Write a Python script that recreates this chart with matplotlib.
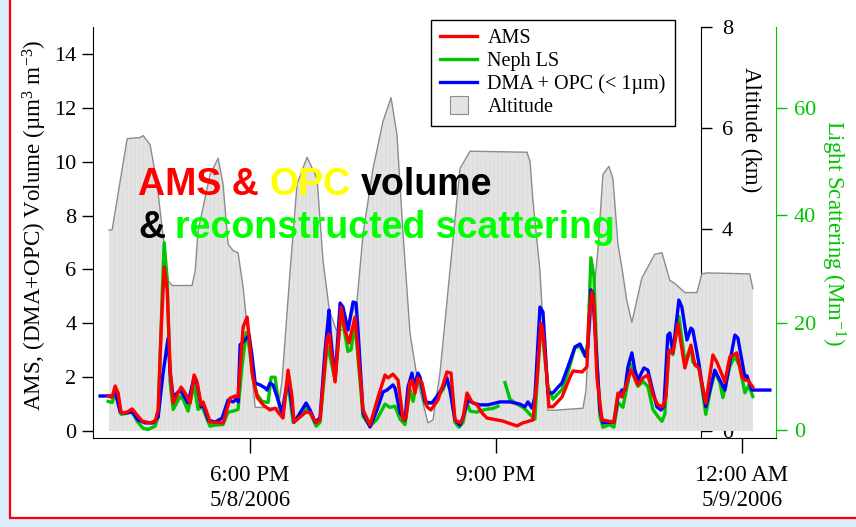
import matplotlib
matplotlib.use('Agg')
import matplotlib.pyplot as plt
import numpy as np
from matplotlib.lines import Line2D
from matplotlib.patches import Rectangle

plt.rcParams['font.family'] = 'Liberation Serif'
plt.rcParams['mathtext.fontset'] = 'custom'
plt.rcParams['mathtext.rm'] = 'Liberation Serif'
plt.rcParams['mathtext.it'] = 'Liberation Serif:italic'
plt.rcParams['hatch.linewidth'] = 0.5

# time in minutes after 4:00 PM, 5/8/2006
t_dma = [10.2, 19.0, 19.8, 21.2, 24.9, 28.5, 33.7, 38.0, 43.2, 49.0, 52.7, 56.3, 60.0, 61.5, 63.7,
         68.8, 71.0, 74.6, 79.0, 81.2, 84.1, 85.6, 89.3, 94.4, 99.5, 103.9, 107.6, 110.5, 111.2,
         112.7, 116.3, 119.3, 121.5, 123.7, 127.3, 131.0, 132.4, 134.6, 136.8, 139.8, 143.4,
         147.8, 152.2, 156.6, 161.0, 163.9, 167.6, 171.2, 174.9, 177.8, 178.5, 182.2, 185.9,
         188.0, 191.7, 195.4, 197.6, 199.0, 202.7, 207.8, 212.9, 217.3, 220.2, 224.6, 226.1,
         229.8, 233.4, 235.6, 238.5, 240.0, 242.9, 244.4, 248.1, 253.2, 257.5, 261.2, 264.1,
         266.3, 270.0, 273.7, 275.9, 279.5, 283.2, 288.3, 294.1, 302.9, 310.2, 317.5, 321.2,
         323.4, 326.3, 328.5, 332.2, 334.4, 338.0, 341.7, 345.4, 348.3, 352.7, 357.8, 361.5,
         363.7, 365.9, 367.3, 369.5, 370.9, 373.9, 376.1, 378.3, 383.4, 386.3, 389.3, 392.2,
         394.4, 396.6, 399.5, 401.7, 403.9, 408.3, 411.2, 414.1, 417.8, 420.7, 422.9, 425.8,
         427.3, 429.5, 433.9, 436.1, 439.8, 442.7, 444.1, 448.5, 451.5, 453.6, 456.6, 460.2,
         463.9, 467.6, 471.2, 474.9, 477.1, 482.2, 483.7, 487.3, 500.5]
v_dma = [1.3, 1.3, 1.33, 1.5, 0.7, 0.67, 0.7, 0.41, 0.3, 0.3, 0.52, 2.15, 3.45, 2.15, 1.26,
         1.52, 1.34, 1.04, 2.0, 1.75, 0.9, 1.0, 0.41, 0.33, 0.48, 1.15, 1.08, 1.22, 1.08,
         3.2, 3.38, 3.56, 2.75, 1.78, 1.71, 1.6, 1.52, 1.78, 1.71, 1.26, 0.67,
         2.0, 0.33, 0.67, 1.04, 0.78, 0.33, 0.48, 3.0, 4.49, 3.75, 1.89, 4.75,
         4.6, 3.75, 4.79, 4.75, 3.75, 0.67, 0.15, 0.78, 1.45, 1.52, 1.71, 1.6,
         0.67, 0.41, 1.63, 2.15, 1.63, 2.15, 2.0, 1.08, 1.04, 1.34, 1.63, 1.97,
         1.52, 0.41, 0.22, 0.52, 1.15, 1.04, 0.97, 0.97, 1.08, 1.08, 1.0, 0.9,
         1.08, 0.85, 1.26, 4.6, 4.42, 1.41, 1.41, 1.63, 1.78, 2.38, 3.12, 3.23,
         3.0, 2.75, 3.12, 5.24, 5.12, 2.64, 0.78, 0.3, 0.33, 0.33, 1.26, 1.52,
         1.52, 2.38, 2.9, 2.26, 1.89, 2.34, 2.26, 1.63, 0.9, 0.78, 0.9, 3.56,
         3.64, 2.9, 4.86, 4.6, 3.38, 3.82, 3.75, 2.53, 1.52, 0.9, 1.52, 2.26,
         1.89, 1.52, 2.56, 3.56, 3.45, 2.0, 2.05, 1.52, 1.52]

t_ams = [16.1, 19.0, 21.2, 23.4, 25.6, 30.0, 33.7, 37.3, 41.0, 46.8, 50.5, 52.7, 54.9, 57.1,
         59.3, 61.5, 63.7, 67.3, 69.5, 72.4, 76.1, 79.0, 81.2, 84.1, 85.6, 88.5, 90.7, 100.2,
         105.4, 109.0, 111.2, 114.9, 117.8, 119.3, 121.5, 125.1, 129.5, 134.6, 138.3, 140.5,
         144.1, 147.8, 150.7, 152.2, 156.6, 161.0, 163.9, 168.3, 171.2, 176.3, 177.8, 178.5,
         182.2, 186.6, 189.5, 192.4, 196.8, 202.7, 207.8, 213.7, 218.8, 221.0, 224.6, 228.3,
         232.0, 234.1, 237.1, 238.5, 240.7, 242.9, 245.9, 249.5, 252.4, 257.5, 261.2, 264.1,
         267.1, 270.0, 273.7, 275.9, 278.8, 282.4, 286.1, 289.8, 293.4, 300.7, 305.1, 308.8,
         315.4, 319.7, 327.1, 330.0, 332.9, 334.4, 337.3, 338.8, 341.7, 348.3, 354.2, 356.4,
         363.0, 366.6, 368.0, 370.2, 371.7, 373.9, 377.6, 386.3, 389.3, 392.2, 395.8, 398.8,
         401.7, 403.9, 407.6, 411.2, 414.9, 418.5, 422.2, 424.4, 426.6, 429.5, 433.2, 438.3,
         442.7, 445.6, 448.5, 453.6, 458.8, 461.7, 467.6, 471.2, 476.3, 480.0, 482.2, 484.4,
         488.0]
v_ams = [1.3, 1.25, 1.67, 1.41, 0.67, 0.7, 0.82, 0.59, 0.37, 0.3, 0.37, 0.78, 3.75, 6.09,
         5.24, 2.26, 1.04, 1.41, 1.63, 1.41, 1.04, 2.08, 1.82, 0.97, 1.08, 0.67, 0.33, 0.3,
         1.22, 1.3, 1.26, 3.86, 4.23, 3.5, 2.15, 1.26, 0.97, 0.78, 0.85, 0.7,
         0.48, 2.26, 1.26, 0.33, 0.52, 0.71, 0.67, 0.3, 0.41, 3.38, 3.6, 3.3,
         1.82, 4.6, 3.75, 3.27, 4.23, 0.78, 0.22, 1.26, 2.08, 1.97, 2.11, 1.89,
         0.41, 0.48, 1.82, 1.89, 1.41, 1.97, 1.78, 0.9, 0.78, 1.15, 1.71, 2.19,
         2.15, 0.41, 0.3, 0.48, 1.41, 1.08, 0.97, 0.67, 0.48, 0.41, 0.37, 0.3,
         0.19, 0.3, 0.41, 1.89, 4.0, 3.68, 2.0, 0.9, 0.9, 1.26, 2.0, 2.23,
         2.19, 2.38, 4.23, 5.16, 4.75, 2.0, 0.41, 0.33, 1.41, 1.26, 1.78, 2.26,
         1.97, 1.71, 1.97, 2.08, 1.34, 0.97, 0.9, 1.26, 3.0, 2.9, 4.0, 2.34,
         3.19, 2.45, 2.34, 1.04, 2.82, 2.56, 1.82, 2.75, 2.9, 2.0, 1.89, 1.89,
         1.63]

# nephelometer light scattering, Mm-1 (gap in the record around 9:03 PM)
t_neph = [16.1, 19.0, 21.2, 25.6, 30.0, 33.7, 37.3, 41.7, 45.4, 50.5, 52.7, 55.6, 57.1, 59.3,
          61.5, 63.7, 68.8, 71.0, 74.6, 79.0, 81.9, 84.9, 88.5, 90.7, 94.4, 100.2, 103.9,
          107.6, 111.2, 114.1, 117.1, 119.3, 122.2, 125.1, 128.8, 133.2, 135.4, 138.3, 140.5,
          143.4, 147.8, 151.5, 156.6, 161.0, 163.9, 168.3, 171.2, 176.3, 177.8, 182.2, 186.6,
          188.8, 191.7, 193.9, 196.8, 202.7, 207.8, 212.9, 218.8, 222.4, 226.1, 229.8, 233.4,
          237.1, 239.3, 242.9, 245.9, 248.1, 253.2, 257.5, 261.2, 264.1, 267.1, 270.0, 272.9,
          275.9, 278.8, 281.0, 286.1, 292.0, 297.8, 301.5, 304.0,
          306.6, 310.2, 315.4, 319.7, 322.7, 326.3, 328.5, 332.2, 334.4, 338.0, 341.7, 348.3,
          352.7, 357.8, 361.5, 365.1, 367.3, 369.5, 371.7, 373.9, 376.1, 378.3, 383.4, 386.3,
          389.3, 392.9, 396.6, 398.8, 401.7, 403.9, 407.6, 411.2, 414.9, 418.5, 421.5, 423.6,
          426.6, 429.5, 433.9, 438.3, 442.7, 444.1, 448.5, 453.6, 456.6, 460.2, 463.9, 466.1,
          471.2, 474.9, 478.5, 482.2, 485.1, 488.0]
ls_neph = [5.4, 5.2, 7.0, 3.0, 3.2, 3.6, 1.7, 0.4, 0.2, 0.8, 2.6, 24.9, 34.9, 28.0,
           8.9, 3.9, 6.3, 5.8, 3.6, 8.6, 3.9, 4.5, 2.1, 0.8, 1.0, 1.1, 3.4,
           3.6, 3.9, 11.9, 18.2, 15.6, 9.5, 6.7, 5.4, 5.2, 9.9, 9.9, 5.8,
           2.6, 8.9, 1.5, 2.6, 4.3, 3.4, 0.8, 1.5, 15.6, 14.5, 9.5, 21.9,
           18.8, 14.7, 15.0, 20.0, 2.6, 0.8, 2.1, 4.9, 4.3, 4.5, 2.1, 1.1,
           7.6, 5.4, 10.0, 7.6, 4.9, 5.2, 6.3, 7.6, 9.5, 7.0, 1.5, 0.6,
           1.5, 5.2, 3.6, 3.4, 3.9, 4.1, 4.5, np.nan,
           8.9, 5.8, 4.9, 4.3, 3.6, 2.6, 2.1, 17.5, 16.9, 8.2, 5.8, 7.6,
           10.8, 15.4, 15.6, 13.8, 16.4, 32.1, 28.6, 12.7, 2.6, 0.6, 1.1, 0.6,
           5.2, 4.3, 8.9, 12.3, 9.5, 8.2, 9.1, 8.2, 3.9, 2.6, 1.7, 3.0,
           15.0, 14.1, 21.2, 12.7, 15.6, 12.7, 11.9, 3.0, 7.0, 11.0, 8.9, 6.1,
           11.9, 13.8, 11.9, 7.0, 8.4, 6.3]

t_alt = [16.8, 19.0, 30.0, 39.5, 41.7, 46.8, 51.9, 56.3, 60.0, 62.9, 77.5, 79.8, 81.9, 90.7,
         96.6, 100.2, 103.9, 107.6, 111.2, 114.9, 120.0, 123.7, 140.5, 143.4, 149.3, 154.4,
         161.7, 169.0, 173.4, 178.0, 183.0, 190.0, 198.3, 202.7, 210.0, 217.3, 223.2, 227.5,
         232.0, 237.1, 242.9, 250.2, 253.9, 259.0, 266.3, 273.7, 281.0, 322.7, 324.9, 327.1,
         332.2, 338.0, 343.2, 363.7, 365.9, 367.3, 374.6, 378.3, 382.7, 385.6, 389.3, 392.2,
         395.8, 399.5, 406.8, 416.3, 421.5, 427.3, 431.0, 438.3, 447.1, 450.7, 454.4, 485.8,
         488.0]
alt_km = [3.98, 3.98, 5.79, 5.81, 5.85, 5.67, 4.89, 3.86, 2.98, 2.88, 2.88, 3.17, 3.96, 5.08,
          5.4, 4.89, 3.7, 3.57, 3.53, 2.84, 1.5, 0.47, 0.45, 1.0, 3.17, 4.89,
          5.42, 5.0, 3.37, 2.4, 2.0, 2.0, 2.58, 3.9, 5.2, 6.13, 6.6, 5.87,
          3.9, 1.93, 0.95, 0.16, 0.22, 1.14, 3.17, 5.2, 5.54, 5.52, 5.34, 4.55,
          3.17, 0.41, 0.41, 0.45, 0.8, 1.6, 3.57, 5.08, 5.24, 5.0, 3.7, 3.23,
          2.58, 2.15, 3.03, 3.5, 3.53, 2.98, 2.92, 2.74, 2.74, 3.11, 3.13, 3.11,
          2.82]

tick_pos = [120, 300, 480]
tick_labels = ['6:00 PM\n5/8/2006', '9:00 PM', '12:00 AM\n5/9/2006']

green = '#00c400'
fs = 16

fig = plt.figure(figsize=(8.56, 5.27), dpi=100)
fig.patch.set_facecolor('#d9edfb')
fig.add_artist(Rectangle((10/856, 9/527), 1, 1, transform=fig.transFigure,
                         fc='white', ec='red', lw=1.6, zorder=-5))

rect = [93/856, 89/527, 683/856, 411/527]
ax_alt = fig.add_axes(rect)
ax_ls = fig.add_axes(rect, sharex=ax_alt)
ax = fig.add_axes(rect, sharex=ax_alt)
for a in (ax_alt, ax_ls, ax):
    a.patch.set_visible(False)

# altitude (filled, on its own axis drawn inside the plot)
ax_alt.fill_between(t_alt, alt_km, 0, fc='#e3e3e3', ec='#d9d9d9', hatch='||||', lw=0, zorder=3)
ax_alt.plot(t_alt, alt_km, color='#8c8c8c', lw=1, zorder=3.1)
ax_alt.set_ylim(-0.14, 8)
ax_alt.yaxis.tick_right()
ax_alt.yaxis.set_label_position('right')
ax_alt.set_yticks([0, 2, 4, 6, 8])
for s in ('left', 'top', 'bottom'):
    ax_alt.spines[s].set_visible(False)
ax_alt.spines['right'].set_position(('axes', 608/683))
ax_alt.xaxis.set_visible(False)
ax_alt.tick_params(axis='y', labelsize=fs, length=8, width=1, pad=7)
ax_alt.set_ylabel('Altitude (km)', fontsize=16.5, rotation=270, labelpad=20)
ax_alt.yaxis.label.set_y(0.75)

# light scattering
ax_ls.plot(t_neph, ls_neph, color=green, lw=2.4)
ax_ls.set_ylim(-1.4, 75)
ax_ls.yaxis.tick_right()
ax_ls.yaxis.set_label_position('right')
ax_ls.set_yticks([0, 20, 40, 60])
for s in ('left', 'top', 'bottom'):
    ax_ls.spines[s].set_visible(False)
ax_ls.spines['right'].set_color(green)
ax_ls.xaxis.set_visible(False)
ax_ls.tick_params(axis='y', colors=green, labelsize=fs, length=8, width=1, pad=5)
ax_ls.set_ylabel('Light Scattering (Mm$^{-1}$)', fontsize=16.5, color=green,
                 rotation=270, labelpad=22)

# volumes
ax.plot(t_dma, v_dma, color='#0000ff', lw=2.4)
ax.plot(t_ams, v_ams, color='#ff0000', lw=2.4)
ax.set_ylim(-0.26, 15)
ax.set_xlim(5, 505)
ax.set_yticks(range(0, 15, 2))
ax.set_xticks(tick_pos)
ax.set_xticklabels(tick_labels, linespacing=1.25)
ax.spines['top'].set_visible(False)
ax.spines['right'].set_visible(False)
ax.tick_params(labelsize=fs, width=1)
ax.tick_params(axis='y', length=8, pad=4)
ax.tick_params(axis='x', length=10.5, pad=9, labelsize=16.5)
ax.set_ylabel('AMS, (DMA+OPC) Volume (µm$^{3}$ m$^{-3}$)', fontsize=16.6, labelpad=4)
ax.yaxis.label.set_y(0.517)

handles = [Line2D([], [], color='#ff0000', lw=2.4),
           Line2D([], [], color=green, lw=2.4),
           Line2D([], [], color='#0000ff', lw=2.4),
           Line2D([], [], ls='none', marker='s', ms=13, mfc='#e3e3e3', mec='#8c8c8c', mew=0.8)]
leg = ax.legend(handles, ['AMS', 'Neph LS', 'DMA + OPC (< 1µm)', 'Altitude'],
                loc='upper left', bbox_to_anchor=(338/683, 418/411), fontsize=14.5,
                frameon=True, fancybox=False, framealpha=1, edgecolor='black',
                borderpad=0.45, labelspacing=0.18, handlelength=1.85, handletextpad=0.5,
                borderaxespad=0)
leg.get_frame().set_linewidth(1)

# title overlay
big = dict(fontsize=27, family='Liberation Sans', weight='bold')
t1 = ax.text(138/856, 1 - 195/527, 'AMS &', color='#ff0000', transform=fig.transFigure,
             va='baseline', ha='left', **big)
t2 = ax.annotate('OPC', xy=(1, 0), xycoords=t1, xytext=(7.5, 0), textcoords='offset points',
                 va='bottom', ha='left', color='#ffff00', **big)
ax.annotate('volume', xy=(1, 0), xycoords=t2, xytext=(7.5, 0), textcoords='offset points',
            va='bottom', ha='left', color='black', **big)
t4 = ax.text(138/856, 1 - 238/527, '&', color='black', transform=fig.transFigure,
             va='baseline', ha='left', **big)
ax.annotate('reconstructed scattering', xy=(1, 0), xycoords=t4, xytext=(7.5, 0),
            textcoords='offset points', va='bottom', ha='left', color='#00ff00', **big)

fig.savefig('out.png', dpi=100, facecolor=fig.get_facecolor())
